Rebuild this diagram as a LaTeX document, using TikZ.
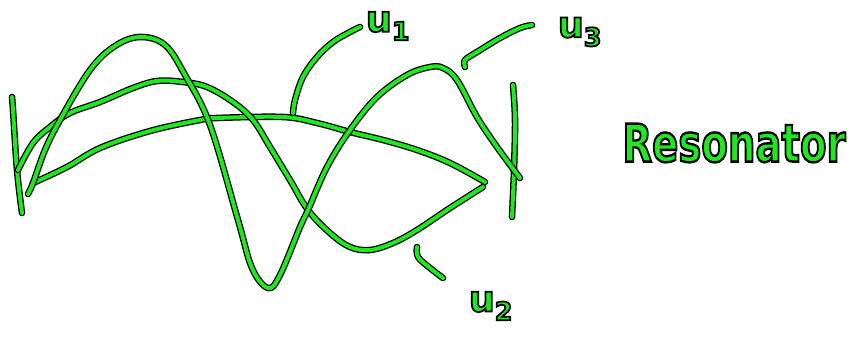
\documentclass[tikz,border=0pt]{standalone}
\usepackage{fontspec}
\newfontfamily\inkfont{DejaVu Sans}
\definecolor{sketchgreen}{RGB}{30,232,30}
\newcommand{\inkstroke}[1]{\special{pdf:code 0 0 0 RG 2 Tr 1.5 w}#1\special{pdf:code 0 Tr}}
\begin{document}
\begin{tikzpicture}[
    x=0.03cm, y=-0.03cm,
    wave/.style={draw=black, line width=1.1pt, double=sketchgreen,
      double distance=3.4pt, line cap=round, line join=round},
    lbl/.style={inner sep=0pt, text=sketchgreen, font=\inkfont\bfseries\fontsize{31}{31}\selectfont},
  ]
    \useasboundingbox (0,0) rectangle (848,337);
    \draw[wave] plot[smooth, tension=0.6] coordinates {(12,97) (13,110) (17,170) (22,213)};
    \draw[wave] plot[smooth, tension=0.6] coordinates {(513,85) (515,120) (514,170) (512,217)};
    \draw[wave] plot[smooth, tension=0.6] coordinates {(33,183) (67,167) (100,148) (150,131)
      (200,120) (217,118) (283,117) (317,123) (350,132) (383,140) (417,150) (450,163) (485,182)};
    \draw[wave] plot[smooth, tension=0.6] coordinates {(18,170) (33,143) (50,127) (70,113)
      (100,102) (133,88) (157,81) (183,82) (207,87) (233,102) (253,120) (270,147) (290,180)
      (308,210) (330,233) (350,247) (370,250) (393,243) (417,230) (450,208) (483,187)};
    \draw[wave] plot[smooth, tension=0.6] coordinates {(28,194) (33,183) (45,150) (60,120)
      (90,70) (115,46) (140,37) (165,45) (185,75) (210,125) (238,220) (252,268) (268,288)
      (280,275) (300,227) (308,210) (327,167) (350,130) (377,97) (407,75) (430,67) (443,68)
      (457,80) (477,117) (497,147) (520,178)};
    \node[lbl] (u1) at (388,26) {\inkstroke{u\textsubscript{1}}};
    \node[lbl] (u2) at (491,306) {\inkstroke{u\textsubscript{2}}};
    \node[lbl] (u3) at (580,32) {\inkstroke{u\textsubscript{3}}};
    \node[lbl, font=\inkfont\bfseries\fontsize{33}{33}\selectfont] (res) at (734,143)
      {\scalebox{1}[1.35]{\inkstroke{Resonator}}};
    \draw[wave] plot[smooth, tension=0.6] coordinates {(293,113) (295,100) (303,77) (317,57)
      (333,42) (350,32) (360,27)};
    \draw[wave] plot[smooth, tension=0.6] coordinates {(465,67) (465,60) (477,52) (500,38)
      (520,28) (532,25)};
    \draw[wave] plot[smooth, tension=0.6] coordinates {(417,247) (418,257) (430,268) (443,278)};
\end{tikzpicture}
\end{document}
